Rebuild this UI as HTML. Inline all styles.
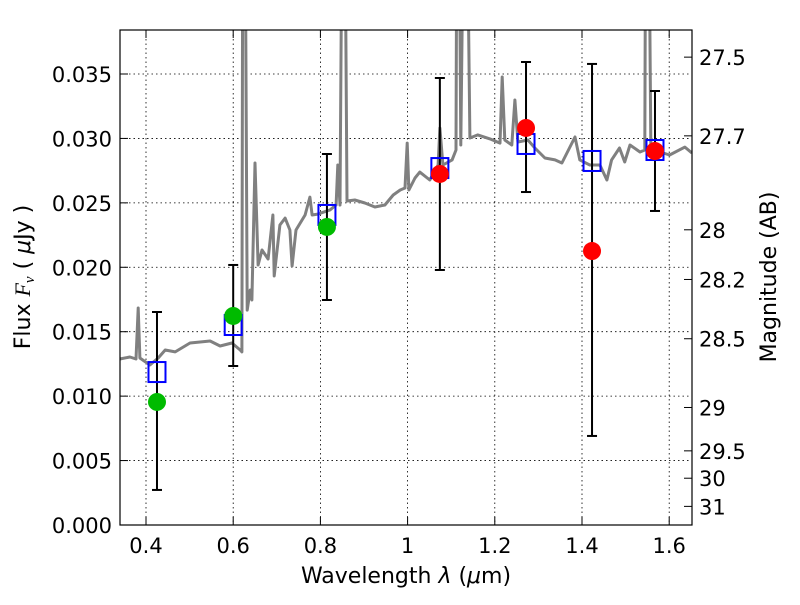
<!DOCTYPE html>
<html><head><meta charset="utf-8"><style>
html,body{margin:0;padding:0;background:#fff;}
svg text{font-family:"DejaVu Sans","Liberation Sans",sans-serif;fill:#000;}
</style></head><body>
<svg id="chart" width="800" height="600" xmlns="http://www.w3.org/2000/svg">
<rect width="800" height="600" fill="#fff"/>
<defs><clipPath id="clip"><rect x="120" y="30" width="572" height="495"/></clipPath></defs>
<g id="grid"></g>
<g id="spec" clip-path="url(#clip)"></g>
<g id="marks"></g>
<rect x="120" y="30" width="572" height="495" fill="none" stroke="#000" stroke-width="1.2"/>
<g id="axes"></g>
<text x="406" y="583" font-size="22" text-anchor="middle">Wavelength  <tspan font-style="italic">λ</tspan> (<tspan font-style="italic">μ</tspan>m)</text>
<text transform="translate(30,277) rotate(-90)" font-size="22" text-anchor="middle">Flux  <tspan font-family="Liberation Serif" font-style="italic">F<tspan font-size="15" dy="4">ν</tspan></tspan><tspan dy="-4">  ( </tspan><tspan font-style="italic">μ</tspan>Jy )</text>
<text transform="translate(776,277) rotate(-90)" font-size="22" text-anchor="middle">Magnitude (AB)</text>
</svg>
<script>
const specLambda=[0.340,0.363,0.377,0.382,0.386,0.409,0.428,0.444,0.467,0.501,0.524,0.547,0.570,0.597,0.616,0.620,0.622,0.627,0.632,0.639,0.643,0.650,0.657,0.666,0.680,0.691,0.694,0.707,0.719,0.730,0.735,0.744,0.765,0.776,0.781,0.794,0.822,0.836,0.840,0.845,0.850,0.856,0.861,0.879,0.902,0.925,0.948,0.967,0.983,0.994,0.999,1.003,1.017,1.028,1.051,1.070,1.074,1.081,1.102,1.111,1.113,1.118,1.122,1.129,1.136,1.143,1.161,1.189,1.212,1.217,1.223,1.239,1.246,1.253,1.276,1.292,1.315,1.338,1.354,1.384,1.395,1.418,1.441,1.457,1.468,1.486,1.498,1.510,1.533,1.544,1.546,1.553,1.558,1.579,1.601,1.636,1.652];
const specFlux=[0.01288,0.01304,0.01288,0.01684,0.01296,0.01242,0.01296,0.01358,0.01343,0.01412,0.0142,0.01428,0.01389,0.01412,0.01358,0.01343,0.05,0.05,0.01668,0.01824,0.01746,0.02809,0.02018,0.02134,0.02064,0.02406,0.01932,0.02328,0.02382,0.02289,0.0201,0.02289,0.02406,0.02545,0.02406,0.02413,0.02445,0.02483,0.02794,0.02483,0.05,0.05,0.02514,0.02522,0.02499,0.02468,0.02483,0.02561,0.026,0.02615,0.02964,0.026,0.02693,0.02739,0.02677,0.02794,0.03081,0.02794,0.02833,0.0291,0.05,0.05,0.02949,0.05,0.05,0.03003,0.03027,0.02996,0.02964,0.03477,0.02988,0.02949,0.03298,0.02972,0.02988,0.02926,0.02848,0.02833,0.02809,0.03011,0.02833,0.02794,0.02794,0.02677,0.02833,0.02926,0.02817,0.02949,0.02895,0.0291,0.05,0.05,0.02871,0.02895,0.02871,0.02933,0.02887];
const greenLambda=[0.4252,0.600,0.815];
const greenFlux=[0.00955,0.01622,0.02313];
const greenErrLo=[0.00272,0.01234,0.01746];
const greenErrHi=[0.01653,0.02018,0.02879];
const redLambda=[1.074,1.2716,1.423,1.5674];
const redFlux=[0.02724,0.03081,0.02126,0.02902];
const redErrLo=[0.01979,0.02584,0.00691,0.02437];
const redErrHi=[0.03469,0.03593,0.03578,0.03368];
const modelLambda=[0.4252,0.600,0.815,1.074,1.2716,1.423,1.5674];
const modelFlux=[0.01187,0.01552,0.02406,0.0277,0.02957,0.02825,0.0291];
const xTicks=[0.4,0.6,0.8,1.0,1.2,1.4,1.6];
const xTickLabels=["0.4","0.6","0.8","1","1.2","1.4","1.6"];
const yTicks=[0,0.005,0.01,0.015,0.02,0.025,0.03,0.035];
const yTickLabels=["0.000","0.005","0.010","0.015","0.020","0.025","0.030","0.035"];
const magTicks=[27.5,27.7,28,28.2,28.5,29,29.5,30,31];
const magTickLabels=["27.5","27.7","28","28.2","28.5","29","29.5","30","31"];

const X=v=>146+(v-0.4)*436;
const Y=v=>525-v*12886;
const NS="http://www.w3.org/2000/svg";
function mk(tag,attrs,parent){const e=document.createElementNS(NS,tag);for(const k in attrs)e.setAttribute(k,attrs[k]);parent.appendChild(e);return e;}
const grid=document.getElementById('grid'),axes=document.getElementById('axes'),spec=document.getElementById('spec'),marks=document.getElementById('marks');

xTicks.forEach((t,i)=>{
  const g=mk('line',{x1:X(t),x2:X(t),y1:30,y2:525,stroke:'#000','stroke-width':0.8,'stroke-dasharray':'1.5,3'},grid);
  
  
  mk('line',{x1:X(t),x2:X(t),y1:525,y2:517,stroke:'#000'},axes);
  mk('line',{x1:X(t),x2:X(t),y1:30,y2:38,stroke:'#000'},axes);
  const tx=mk('text',{x:X(t),y:553,'font-size':21,'text-anchor':'middle'},axes);
  tx.textContent=xTickLabels[i];
  
  
});
yTicks.forEach((t,i)=>{
  const g=mk('line',{x1:120,x2:692,y1:Y(t),y2:Y(t),stroke:'#000','stroke-width':0.8,'stroke-dasharray':'1.5,3'},grid);
  
  
  mk('line',{x1:120,x2:128,y1:Y(t),y2:Y(t),stroke:'#000'},axes);
  const tx=mk('text',{x:112,y:Y(t)+8,'font-size':21,'text-anchor':'end'},axes);
  tx.textContent=yTickLabels[i];
  
  
});
magTicks.forEach((m,i)=>{
  const f=Math.pow(10,(23.9-m)/2.5);
  mk('line',{x1:684,x2:692,y1:Y(f),y2:Y(f),stroke:'#000'},axes);
  const tx=mk('text',{x:699,y:Y(f)+8,'font-size':21},axes);
  tx.textContent=magTickLabels[i];
  
  
});

const pts=specLambda.map((l,i)=>X(l).toFixed(1)+','+Y(specFlux[i]).toFixed(1)).join(' ');
const pl=mk('polyline',{points:pts,fill:'none',stroke:'#808080','stroke-width':3,'stroke-linejoin':'round'},spec);



function errbar(l,lo,hi){
  const g=mk('g',{},marks);
  
  
  mk('line',{x1:X(l),x2:X(l),y1:Y(lo),y2:Y(hi),stroke:'#000','stroke-width':2},g);
  mk('line',{x1:X(l)-5,x2:X(l)+5,y1:Y(lo),y2:Y(lo),stroke:'#000','stroke-width':2},g);
  mk('line',{x1:X(l)-5,x2:X(l)+5,y1:Y(hi),y2:Y(hi),stroke:'#000','stroke-width':2},g);
}
greenLambda.forEach((l,i)=>errbar(l,greenErrLo[i],greenErrHi[i]));
redLambda.forEach((l,i)=>errbar(l,redErrLo[i],redErrHi[i]));
modelLambda.forEach((l,i)=>{
  const r=mk('rect',{x:X(l)-8.5,y:Y(modelFlux[i])-10,width:17,height:20,fill:'none',stroke:'#0000ff','stroke-width':2},marks);
  
  
});
greenLambda.forEach((l,i)=>{
  const c=mk('circle',{cx:X(l),cy:Y(greenFlux[i]),r:9,fill:'#00bb00'},marks);
  
  
});
redLambda.forEach((l,i)=>{
  const c=mk('circle',{cx:X(l),cy:Y(redFlux[i]),r:9,fill:'#ff0000'},marks);
  
  
});
</script>
</body></html>
